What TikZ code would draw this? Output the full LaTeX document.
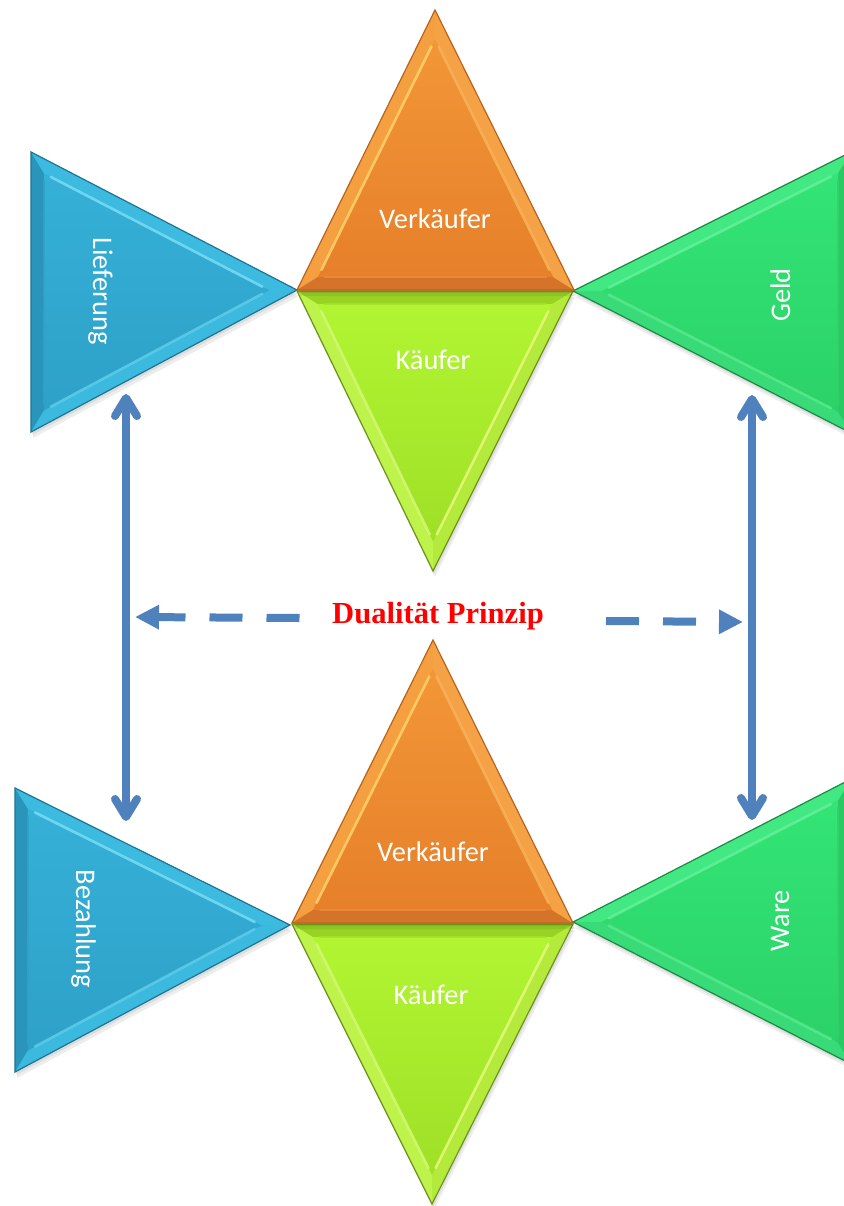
\documentclass[tikz,border=0pt]{standalone}
\usepackage{fontspec}
\setmainfont{Carlito}
\newfontfamily\titlefont{Liberation Serif}
\usetikzlibrary{calc,arrows.meta}

% ---------- colours ----------
\definecolor{arrowblue}{HTML}{4F81BD}
\definecolor{titlered}{HTML}{FF0000}
% orange (Verkaeufer): A apex, B bottom left, C bottom right
\definecolor{oBase}{HTML}{EE8A2C}\definecolor{oTop}{HTML}{F29637}\definecolor{oBot}{HTML}{E6802A}
\definecolor{oEdge}{HTML}{B8641E}\definecolor{oAB}{HTML}{F4A041}\definecolor{oBC}{HTML}{D5732A}
\definecolor{oCA}{HTML}{F5A247}\definecolor{ohAB}{HTML}{FFD26A}\definecolor{ohBC}{HTML}{E88D3C}
\definecolor{ohCA}{HTML}{F8B25A}
% yellow green (Kaeufer): A top left, B apex, C top right
\definecolor{gBase}{HTML}{ABEE2D}\definecolor{gTop}{HTML}{B1F532}\definecolor{gBot}{HTML}{9FE027}
\definecolor{gEdge}{HTML}{6E951A}\definecolor{gAB}{HTML}{BEF34C}\definecolor{gBC}{HTML}{B4EA3C}
\definecolor{gCA}{HTML}{98D324}\definecolor{ghAB}{HTML}{D2F875}\definecolor{ghBC}{HTML}{E6F97C}
\definecolor{ghCA}{HTML}{A6E22C}
% blue: A top left, B bottom left, C apex
\definecolor{bBase}{HTML}{32ABD2}\definecolor{bTop}{HTML}{35B0D7}\definecolor{bBot}{HTML}{2EA1C8}
\definecolor{bEdge}{HTML}{1D7592}\definecolor{bAB}{HTML}{2A95BA}\definecolor{bBC}{HTML}{3CB9DE}
\definecolor{bCA}{HTML}{3DBADF}\definecolor{bhAB}{HTML}{31A2C8}\definecolor{bhBC}{HTML}{5FCCE9}
\definecolor{bhCA}{HTML}{78DDF3}
% mint green: A apex, B bottom right, C top right
\definecolor{mBase}{HTML}{2FDE70}\definecolor{mTop}{HTML}{33E476}\definecolor{mBot}{HTML}{2BD268}
\definecolor{mEdge}{HTML}{1C8A44}\definecolor{mAB}{HTML}{38DB78}\definecolor{mBC}{HTML}{2BC964}
\definecolor{mCA}{HTML}{42E983}\definecolor{mhAB}{HTML}{5AE88E}\definecolor{mhBC}{HTML}{30D26B}
\definecolor{mhCA}{HTML}{66F098}

\newcommand\usepalette[1]{%
  \colorlet{pBase}{#1Base}\colorlet{pTop}{#1Top}\colorlet{pBot}{#1Bot}%
  \colorlet{pEdge}{#1Edge}\colorlet{pAB}{#1AB}\colorlet{pBC}{#1BC}%
  \colorlet{pCA}{#1CA}\colorlet{phAB}{#1hAB}\colorlet{phBC}{#1hBC}%
  \colorlet{phCA}{#1hCA}}

\newcommand\bevelwidth{13}

% bevelled triangle: #1 name, then the three corners A, B, C
\newcommand\bevtri[7]{%
  \pgfmathsetmacro\la{veclen(#4-#6,#5-#7)}%
  \pgfmathsetmacro\lb{veclen(#6-#2,#7-#3)}%
  \pgfmathsetmacro\lc{veclen(#2-#4,#3-#5)}%
  \pgfmathsetmacro\ls{\la+\lb+\lc}%
  \pgfmathsetmacro\ix{\la/\ls*#2+\lb/\ls*#4+\lc/\ls*#6}%
  \pgfmathsetmacro\iy{\la/\ls*#3+\lb/\ls*#5+\lc/\ls*#7}%
  \pgfmathsetmacro\rin{abs((#4-#2)/\ls*(#7-#3)-(#6-#2)/\ls*(#5-#3))}%
  \pgfmathsetmacro\kin{1-\bevelwidth/\rin}%
  \coordinate (#1-A) at (#2,#3);
  \coordinate (#1-B) at (#4,#5);
  \coordinate (#1-C) at (#6,#7);
  \coordinate (#1-I) at (\ix,\iy);
  \coordinate (#1-a) at ($(#1-I)!\kin!(#1-A)$);
  \coordinate (#1-b) at ($(#1-I)!\kin!(#1-B)$);
  \coordinate (#1-c) at ($(#1-I)!\kin!(#1-C)$);
  \fill[black,opacity=.07] ([shift={(2,6)}]#1-A) -- ([shift={(2,6)}]#1-B) -- ([shift={(2,6)}]#1-C) -- cycle;
  \fill[black,opacity=.07] ([shift={(1,3)}]#1-A) -- ([shift={(1,3)}]#1-B) -- ([shift={(1,3)}]#1-C) -- cycle;
  \fill[pBase] (#1-A) -- (#1-B) -- (#1-C) -- cycle;
  \fill[pAB] (#1-A) -- (#1-B) -- (#1-b) -- (#1-a) -- cycle;
  \fill[pBC] (#1-B) -- (#1-C) -- (#1-c) -- (#1-b) -- cycle;
  \fill[pCA] (#1-C) -- (#1-A) -- (#1-a) -- (#1-c) -- cycle;
  \shade[top color=pTop,bottom color=pBot] (#1-a) -- (#1-b) -- (#1-c) -- cycle;
  \begin{scope}[line width=1.3pt,line cap=round,opacity=.85]
  \draw[phAB] ($(#1-a)!.03!(#1-b)$) -- ($(#1-b)!.03!(#1-a)$);
  \draw[phBC] ($(#1-b)!.03!(#1-c)$) -- ($(#1-c)!.03!(#1-b)$);
  \draw[phCA] ($(#1-c)!.03!(#1-a)$) -- ($(#1-a)!.03!(#1-c)$);
  \end{scope}
  \draw[pEdge,line width=.6pt,line join=miter] (#1-A) -- (#1-B) -- (#1-C) -- cycle;
}

\tikzset{
  tlabel/.style={text=white,inner sep=0pt,anchor=base,font=\fontsize{14.2pt}{17pt}\selectfont},
  title/.style={text=titlered,inner sep=0pt,anchor=base,font=\titlefont\bfseries\fontsize{15.3pt}{18pt}\selectfont},
  link/.style={draw=arrowblue,line width=4pt},
  barbs/.style={link,{Straight Barb[length=9pt,width=11pt,round]}-{Straight Barb[length=9pt,width=11pt,round]}},
  dashlink/.style={link,dash pattern=on 16.5pt off 12pt},
  tip/.tip={Triangle[length=12pt,width=11.5pt]}
}

\begin{document}
\begin{tikzpicture}[x=0.5pt,y=-0.5pt]
\useasboundingbox (0,0) rectangle (844,1206);
\fill[white] (0,0) rectangle (844,1206);

\begin{scope}
\clip (0,0) rectangle (844,1206);
% upper group
\usepalette{b}\bevtri{tlief}{31}{152}{31}{432}{297}{290}
\usepalette{m}\bevtri{tgeld}{573}{291}{851}{433}{851}{152}
\usepalette{g}\bevtri{tkauf}{297}{291}{433}{571}{573}{291}
\usepalette{o}\bevtri{tverk}{435}{10}{297}{290}{574}{290}
% lower group
\usepalette{b}\bevtri{tbez}{15}{788}{15}{1072}{290}{925}
\usepalette{m}\bevtri{tware}{573}{922}{851}{1064}{851}{779}
\usepalette{g}\bevtri{bkauf}{292}{924}{432}{1204}{573}{924}
\usepalette{o}\bevtri{bverk}{433}{640}{292}{923}{573}{923}
\end{scope}

% labels
\node[tlabel] (lverk) at (435,228) {Verkäufer};
\node[tlabel] (lkauf) at (433,369) {Käufer};
\node[tlabel,rotate=-90] (llief) at (93,291) {Lieferung};
\node[tlabel,rotate=90] (lgeld) at (790,295) {Geld};
\node[tlabel] (lverk2) at (433,861) {Verkäufer};
\node[tlabel] (lkauf2) at (431,1004) {Käufer};
\node[tlabel,rotate=-90] (lbez) at (76,929) {Bezahlung};
\node[tlabel,rotate=90] (lware) at (789,921) {Ware};

\node[title] (dual) at (438,623) {Dualität Prinzip};

% connector end points
\coordinate (lt) at (126,394);
\coordinate (lb) at (126,821);
\coordinate (rt) at (752,395);
\coordinate (rb) at (752,820);
\coordinate (dl) at (135,617);
\coordinate (dlm) at (300,618);
\coordinate (drm) at (606,621);
\coordinate (dr) at (743,622);

\draw[barbs] (lt) -- (lb);
\draw[barbs] (rt) -- (rb);
\draw[dashlink,dash phase=2.5pt,{tip}-] (dl) -- (dlm);
\draw[dashlink,-{tip}] (drm) -- (dr);
\end{tikzpicture}
\end{document}
